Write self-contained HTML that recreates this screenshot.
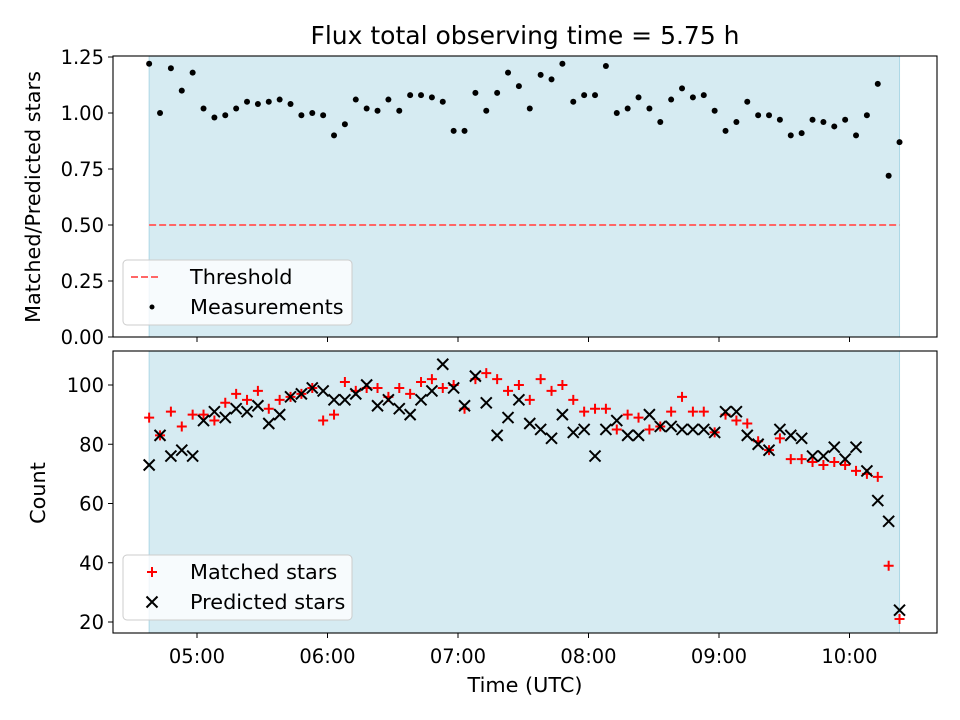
<!DOCTYPE html>
<html><head><meta charset="utf-8"><style>
body{margin:0;background:#fff}
svg{display:block;font-family:"DejaVu Sans","Liberation Sans",sans-serif}
</style></head><body>
<svg id="chart" width="960" height="720" viewBox="0 0 960 720">
<rect width="960" height="720" fill="#fff"/>
<text x="525" y="44" font-size="25" text-anchor="middle">Flux total observing time = 5.75 h</text>
<g id="top"></g><g id="bot"></g>
<text x="525" y="692" font-size="20.8" text-anchor="middle">Time (UTC)</text>
<text transform="translate(40,197) rotate(-90)" font-size="20.8" text-anchor="middle">Matched/Predicted stars</text>
<text transform="translate(45,493) rotate(-90)" font-size="20.8" text-anchor="middle">Count</text>
</svg>
<script>
const times=[278,283,288,293,298,303,308,313,318,323,328,333,338,343,348,353,358,363,368,373,378,383,388,393,398,403,408,413,418,423,428,433,438,443,448,453,458,463,468,473,478,483,488,493,498,503,508,513,518,523,528,533,538,543,548,553,558,563,568,573,578,583,588,593,598,603,608,613,618,623];
const ratio=[1.22,1.00,1.20,1.10,1.18,1.02,0.98,0.99,1.02,1.05,1.04,1.05,1.06,1.04,0.99,1.00,0.99,0.90,0.95,1.06,1.02,1.01,1.06,1.01,1.08,1.08,1.07,1.05,0.92,0.92,1.09,1.01,1.09,1.18,1.12,1.02,1.17,1.15,1.22,1.05,1.08,1.08,1.21,1.00,1.02,1.07,1.02,0.96,1.06,1.11,1.07,1.08,1.01,0.92,0.96,1.05,0.99,0.99,0.97,0.90,0.91,0.97,0.96,0.94,0.97,0.90,0.99,1.13,0.72,0.87];
const matched=[89,83,91,86,90,90,88,94,97,95,98,92,95,96,97,99,88,90,101,98,99,99,96,99,97,101,102,99,100,92,102,104,102,98,100,95,102,98,100,95,91,92,92,85,90,89,85,86,91,96,91,91,84,90,88,87,81,78,82,75,75,74,73,74,73,71,70,69,39,21];
const predicted=[73,83,76,78,76,88,91,89,92,91,93,87,90,96,97,99,98,95,95,97,100,93,95,92,90,95,98,107,99,93,103,94,83,89,95,87,85,82,90,84,85,76,85,88,83,83,90,86,86,85,85,85,84,91,91,83,80,78,85,83,82,76,76,79,75,79,71,61,54,24];
const threshold=[0.5];
const xTicks=[300,360,420,480,540,600];
const xTickLabels=["05:00","06:00","07:00","08:00","09:00","10:00"];
const topTicks=[0,0.25,0.5,0.75,1.0,1.25];
const topTickLabels=["0.00","0.25","0.50","0.75","1.00","1.25"];
const botTicks=[20,40,60,80,100];
const shadeSpan=[278,623];

const NS="http://www.w3.org/2000/svg";
const L=113,R=937;
const xs=t=>197+(t-300)/60*130.5;
const yTop=v=>337-v*224;
const yBot=v=>622-(v-20)*(237/80);
const TF=19.5;
function mk(p,tag,a){const e=document.createElementNS(NS,tag);for(const k in a)e.setAttribute(k,a[k]);p.appendChild(e);return e;}

function axes(g,top,bottom,name){
  const s=mk(g,'rect',{x:xs(shadeSpan[0]),y:top,width:xs(shadeSpan[1])-xs(shadeSpan[0]),height:bottom-top,fill:'#add8e6','fill-opacity':0.5,stroke:'#add8e6','stroke-width':1});
  
  
}
function frame(g,top,bottom,name){
  const f=mk(g,'rect',{x:L,y:top,width:R-L,height:bottom-top,fill:'none',stroke:'#000','stroke-width':1.1});
  
  
  xTicks.forEach((t,i)=>{
    mk(g,'line',{x1:xs(t),x2:xs(t),y1:bottom,y2:bottom+5,stroke:'#000'});
    if(name==='bottom'){const tx=mk(g,'text',{x:xs(t),y:bottom+30,'font-size':TF,'text-anchor':'middle'});tx.textContent=xTickLabels[i];
      
      }
  });
}
const gt=document.getElementById('top');
axes(gt,56,337,'top');
const th=mk(gt,'line',{x1:xs(shadeSpan[0]),x2:xs(shadeSpan[1]),y1:yTop(threshold[0]),y2:yTop(threshold[0]),stroke:'#ff6666','stroke-width':2,'stroke-dasharray':'7,3'});


ratio.forEach((v,i)=>{const c=mk(gt,'circle',{cx:xs(times[i]),cy:yTop(v),r:3,fill:'#000'});
  
  });
frame(gt,56,337,'top');
topTicks.forEach((v,i)=>{mk(gt,'line',{x1:L-5,x2:L,y1:yTop(v),y2:yTop(v),stroke:'#000'});
  const tx=mk(gt,'text',{x:L-9,y:yTop(v)+7,'font-size':TF,'text-anchor':'end'});tx.textContent=topTickLabels[i];
  
  });
const gb=document.getElementById('bot');
axes(gb,351,633,'bottom');
matched.forEach((v,i)=>{const x=xs(times[i]),y=yBot(v);const p=mk(gb,'path',{d:`M${x-5},${y}H${x+5}M${x},${y-5}V${y+5}`,stroke:'#f00','stroke-width':2});
  
  });
predicted.forEach((v,i)=>{const x=xs(times[i]),y=yBot(v);const p=mk(gb,'path',{d:`M${x-5.5},${y-5.5}L${x+5.5},${y+5.5}M${x-5.5},${y+5.5}L${x+5.5},${y-5.5}`,stroke:'#000','stroke-width':2});
  
  });
frame(gb,351,633,'bottom');
botTicks.forEach(v=>{mk(gb,'line',{x1:L-5,x2:L,y1:yBot(v),y2:yBot(v),stroke:'#000'});
  const tx=mk(gb,'text',{x:L-9,y:yBot(v)+7,'font-size':TF,'text-anchor':'end'});tx.textContent=v;
  
  });
function legend(g,y,items,name){
  const b=mk(g,'rect',{x:123,y:y,width:229,height:65,rx:4,fill:'#fff','fill-opacity':0.8,stroke:'#ccc'});
  
  
  items.forEach((it,i)=>{const cy=y+17+i*30;it.draw(cy);
    const tx=mk(g,'text',{x:190,y:cy+7,'font-size':20.8});tx.textContent=it.label;
    
    });
}
legend(gt,260,[
 {label:'Threshold',draw:cy=>mk(gt,'line',{x1:131,x2:159,y1:cy,y2:cy,stroke:'#ff6666','stroke-width':2,'stroke-dasharray':'7,3'})},
 {label:'Measurements',draw:cy=>mk(gt,'circle',{cx:152,cy:cy,r:2.5,fill:'#000'})}],'top-legend');
legend(gb,555,[
 {label:'Matched stars',draw:cy=>mk(gb,'path',{d:`M147,${cy}H157M152,${cy-5}V${cy+5}`,stroke:'#f00','stroke-width':2})},
 {label:'Predicted stars',draw:cy=>mk(gb,'path',{d:`M146.5,${cy-5.5}L157.5,${cy+5.5}M146.5,${cy+5.5}L157.5,${cy-5.5}`,stroke:'#000','stroke-width':2})}],'bottom-legend');
</script>
</body></html>
